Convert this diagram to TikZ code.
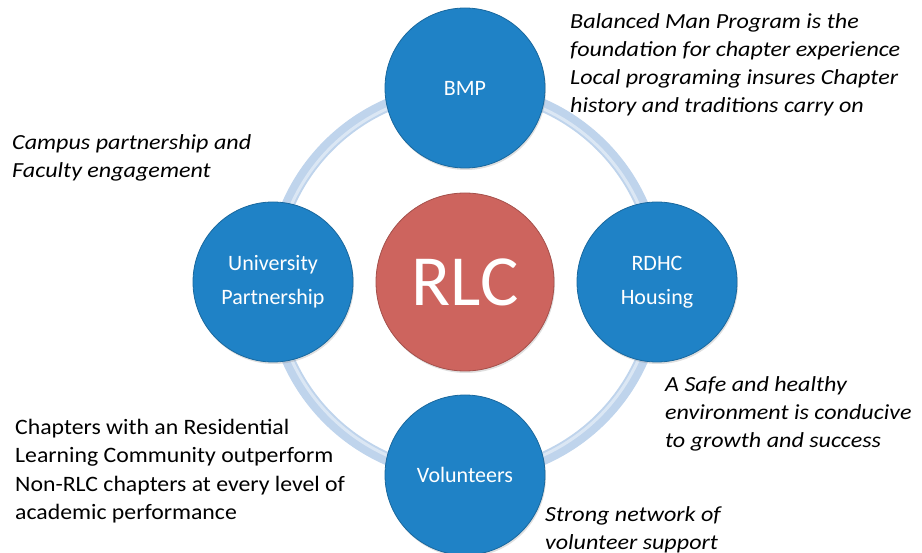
\documentclass[tikz,border=0pt]{standalone}
\usepackage{fontspec}
\setmainfont{Carlito}
\newfontfamily\notefont[FakeStretch=1.12]{Carlito}
\newfontfamily\bodyfont[FakeStretch=1.08]{Carlito}
\usetikzlibrary{calc,shadows}

\definecolor{spokeblue}{HTML}{1F82C6}
\definecolor{rlcred}{HTML}{CD645E}
\definecolor{ringblue}{HTML}{BFD4EC}

\begin{document}
\begin{tikzpicture}[x=1pt,y=-1pt]

\def\ringr{193}

\tikzset{hub/.style={circle, fill=rlcred, draw=rlcred!80!black, line width=0.8pt, text=white,
    minimum size=178pt, inner sep=0pt, font=\fontsize{72}{72}\selectfont,
    drop shadow={opacity=0.25, shadow xshift=1pt, shadow yshift=-2pt}},
  spoke/.style={circle, fill=spokeblue, draw=spokeblue!80!black, line width=0.8pt, text=white,
    minimum size=160pt, inner sep=0pt, align=center, font=\fontsize{22}{34}\selectfont,
    drop shadow={opacity=0.25, shadow xshift=1pt, shadow yshift=-2pt}},
  note/.style={anchor=north west, inner sep=0pt, align=left, font=\notefont\fontsize{21.5}{28}\selectfont\itshape}}

\useasboundingbox (0,0) rectangle (922,553);

\coordinate (c) at (465,282);
% ring behind the circles
\draw[ringblue, line width=13pt] (c) circle (\ringr);
\draw[white, opacity=.45, line width=3pt] (c) circle (\ringr-3);

\node[hub] (rlc) at (c) {RLC};
\node[spoke] (bmp) at (465,88) {BMP};
\node[spoke] (univ) at (273,282) {University\\Partnership};
\node[spoke] (rdhc) at (657,282) {RDHC\\Housing};
\node[spoke] (vol) at (465,475) {Volunteers};

% notes
\node[note] (bmpnote) at (570,13) {Balanced Man Program is the\\foundation for chapter experience\\Local programing insures Chapter\\history and traditions carry on};
\node[note] (univnote) at (12,134) {Campus partnership and\\Faculty engagement};
\node[note] (rdhcnote) at (665,376) {A Safe and healthy\\environment is conducive\\to growth and success};
\node[note] (volnote) at (545,506) {Strong network of\\volunteer support};
\node[note, font=\bodyfont\fontsize{22}{28.5}\selectfont] (rlcnote) at (15,419) {Chapters with an Residential\\Learning Community outperform\\Non-RLC chapters at every level of\\academic performance};

\end{tikzpicture}
\end{document}
